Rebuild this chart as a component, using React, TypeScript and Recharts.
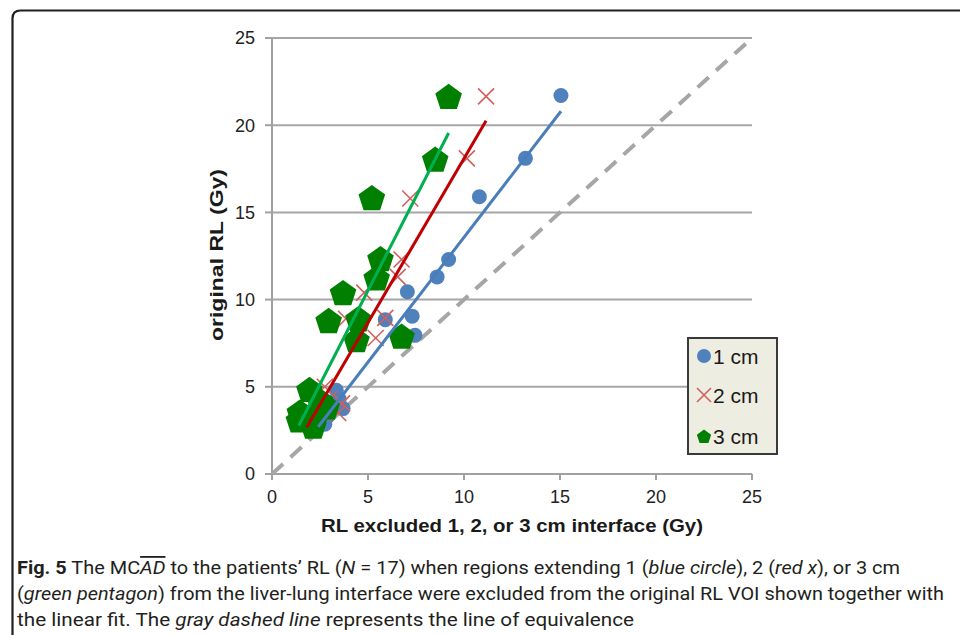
import React from 'react';
import { ScatterChart, Scatter, XAxis, YAxis, CartesianGrid } from 'recharts';

const xTicks = [0, 5, 10, 15, 20, 25];
const yTicks = [0, 5, 10, 15, 20, 25];

const blue1cm = [
  { x: 15.05, y: 21.7 }, { x: 13.2, y: 18.1 }, { x: 10.8, y: 15.9 }, { x: 9.2, y: 12.3 },
  { x: 8.6, y: 11.3 }, { x: 7.05, y: 10.45 }, { x: 7.3, y: 9.05 }, { x: 7.45, y: 7.95 },
  { x: 5.9, y: 8.85 }, { x: 3.35, y: 4.8 }, { x: 3.7, y: 3.75 }, { x: 2.75, y: 2.85 },
  { x: 2.45, y: 3.2 }, { x: 3.0, y: 3.6 }, { x: 3.1, y: 4.1 }, { x: 2.9, y: 3.3 }, { x: 3.5, y: 4.3 },
];
const red2cm = [
  { x: 11.15, y: 21.65 }, { x: 10.15, y: 18.1 }, { x: 7.2, y: 15.8 }, { x: 6.75, y: 12.3 },
  { x: 6.55, y: 11.3 }, { x: 4.8, y: 10.4 }, { x: 5.9, y: 8.95 }, { x: 3.85, y: 8.9 },
  { x: 5.4, y: 7.8 }, { x: 2.75, y: 5.0 }, { x: 3.45, y: 3.5 }, { x: 3.65, y: 4.05 },
  { x: 1.85, y: 3.0 }, { x: 2.3, y: 3.4 }, { x: 2.6, y: 3.9 }, { x: 2.2, y: 2.8 }, { x: 3.0, y: 4.3 },
];
const green3cm = [
  { x: 9.2, y: 21.65 }, { x: 8.5, y: 18.05 }, { x: 5.2, y: 15.85 }, { x: 5.65, y: 12.35 },
  { x: 5.45, y: 11.25 }, { x: 3.7, y: 10.4 }, { x: 2.95, y: 8.8 }, { x: 4.5, y: 8.9 },
  { x: 4.4, y: 7.7 }, { x: 6.75, y: 7.9 }, { x: 1.95, y: 4.85 }, { x: 1.45, y: 3.55 },
  { x: 2.25, y: 3.2 }, { x: 1.4, y: 3.1 }, { x: 2.15, y: 2.75 }, { x: 2.85, y: 3.85 }, { x: 2.5, y: 4.2 },
];

const blueFit = [{ x: 2.41, y: 2.71 }, { x: 15.05, y: 20.8 }];
const redFit = [{ x: 1.81, y: 2.68 }, { x: 11.15, y: 20.25 }];
const greenFit = [{ x: 1.4, y: 2.78 }, { x: 9.2, y: 19.55 }];
const equivalence = [{ x: 0, y: 0 }, { x: 25, y: 25 }];

const seriesNames = ['1 cm', '2 cm', '3 cm'];

const BLUE = '#4F81BD';
const RED_X = '#D0605E';
const GREEN = '#007F00';

const pentPoints = (cx: number, cy: number, r: number) =>
  Array.from({ length: 5 }, (_, k) => {
    const a = ((-90 + k * 72) * Math.PI) / 180;
    return `${cx + r * Math.cos(a)},${cy + r * Math.sin(a)}`;
  }).join(' ');

const CircleShape = (p: any) => <circle cx={p.cx} cy={p.cy} r={7.5} fill={BLUE} />;
const CrossShape = (p: any) => (
  <g stroke={RED_X} strokeWidth={1.6}>
    <line x1={p.cx - 8} y1={p.cy - 8} x2={p.cx + 8} y2={p.cy + 8} />
    <line x1={p.cx - 8} y1={p.cy + 8} x2={p.cx + 8} y2={p.cy - 8} />
  </g>
);
const PentShape = (p: any) => <polygon points={pentPoints(p.cx, p.cy + 1.3, 14)} fill={GREEN} />;
const NoShape = () => <g />;

export default function App() {
  const tickStyle = { fill: '#222', fontSize: 18, fontFamily: 'Liberation Sans, Arial, sans-serif' };
  return (
    <div style={{ position: 'absolute', left: 0, top: 0, width: 960, height: 635, background: '#fff', overflow: 'hidden' }}>
      <div style={{ position: 'absolute', left: 0, top: 0 }}>
        <ScatterChart width={960} height={635} margin={{ top: 38, right: 208, left: 212, bottom: 121 }}>
          <CartesianGrid vertical={false} stroke="#A6A6A6" strokeWidth={2} />
          <XAxis
            type="number"
            dataKey="x"
            domain={[0, 25]}
            ticks={xTicks}
            allowDataOverflow
            height={40}
            tickSize={6}
            tickMargin={10}
            tick={tickStyle}
            axisLine={{ stroke: '#A0A0A0', strokeWidth: 2 }}
            tickLine={{ stroke: '#A0A0A0', strokeWidth: 2 }}
          />
          <YAxis
            type="number"
            dataKey="y"
            domain={[0, 25]}
            ticks={yTicks}
            allowDataOverflow
            width={60}
            tickSize={7}
            tickMargin={10}
            tick={tickStyle}
            axisLine={{ stroke: '#A0A0A0', strokeWidth: 2 }}
            tickLine={{ stroke: '#A0A0A0', strokeWidth: 2 }}
          />
          <Scatter
            data={equivalence}
            line={{ stroke: '#A6A6A6', strokeWidth: 4, strokeDasharray: '15 10' }}
            shape={NoShape}
            legendType="none"
            isAnimationActive={false}
          />
          <Scatter name={seriesNames[0]} data={blue1cm} fill={BLUE} shape={CircleShape} isAnimationActive={false} />
          <Scatter name={seriesNames[1]} data={red2cm} fill={RED_X} shape={CrossShape} isAnimationActive={false} />
          <Scatter name={seriesNames[2]} data={green3cm} fill={GREEN} shape={PentShape} isAnimationActive={false} />
          <Scatter data={blueFit} line={{ stroke: '#4A7EBB', strokeWidth: 3 }} shape={NoShape} legendType="none" isAnimationActive={false} />
          <Scatter data={redFit} line={{ stroke: '#C00000', strokeWidth: 3 }} shape={NoShape} legendType="none" isAnimationActive={false} />
          <Scatter data={greenFit} line={{ stroke: '#00B050', strokeWidth: 3 }} shape={NoShape} legendType="none" isAnimationActive={false} />
        </ScatterChart>
      </div>
      <svg
        width={960}
        height={635}
        style={{ position: 'absolute', left: 0, top: 0, pointerEvents: 'none' }}
      >
        <path d="M 12.5 660 L 12.5 18.5 Q 12.5 10.5 20.5 10.5 L 980 10.5" fill="none" stroke="#1e1e1e" strokeWidth={2.2} />
        <g transform="translate(687 337)" fontFamily="Liberation Sans, Arial, sans-serif">
          <rect x={1} y={1} width={89} height={116} fill="#EEEDE1" stroke="#3a3a3a" strokeWidth={2} />
          <circle cx={17} cy={19} r={7} fill={BLUE} />
          <text x={26} y={26.5} fontSize={21} fill="#1a1a1a">{seriesNames[0]}</text>
          <g stroke={RED_X} strokeWidth={1.6}>
            <line x1={10} y1={51} x2={24} y2={65} />
            <line x1={10} y1={65} x2={24} y2={51} />
          </g>
          <text x={26} y={65.5} fontSize={21} fill="#1a1a1a">{seriesNames[1]}</text>
          <polygon points={pentPoints(17, 100, 7.5)} fill={GREEN} />
          <text x={26} y={106.5} fontSize={21} fill="#1a1a1a">{seriesNames[2]}</text>
        </g>
        <text
          x={512}
          y={532}
          textAnchor="middle"
          fontSize={18}
          fontWeight="bold"
          fontFamily="Liberation Sans, Arial, sans-serif"
          fill="#1a1a1a"
          textLength={382}
          lengthAdjust="spacingAndGlyphs"
        >
          RL excluded 1, 2, or 3 cm interface (Gy)
        </text>
        <text
          x={0}
          y={0}
          transform="translate(223 255) rotate(-90)"
          textAnchor="middle"
          fontSize={18}
          fontWeight="bold"
          fontFamily="Liberation Sans, Arial, sans-serif"
          fill="#1a1a1a"
          textLength={172}
          lengthAdjust="spacingAndGlyphs"
        >
          original RL (Gy)
        </text>
        <g fontFamily="Liberation Sans Narrow, Roboto, sans-serif" fontSize={18} fill="#231f20">
          <text x={17} y={574} textLength={883} lengthAdjust="spacingAndGlyphs">
            <tspan fontWeight="bold">Fig. 5</tspan>
            <tspan> The MC</tspan>
            <tspan fontStyle="italic" style={{ textDecoration: 'overline' }}>AD</tspan>
            <tspan> to the patients’ RL (</tspan>
            <tspan fontStyle="italic">N</tspan>
            <tspan> = 17) when regions extending 1 (</tspan>
            <tspan fontStyle="italic">blue circle</tspan>
            <tspan>), 2 (</tspan>
            <tspan fontStyle="italic">red x</tspan>
            <tspan>), or 3 cm</tspan>
          </text>
          <text x={17} y={600} textLength={927} lengthAdjust="spacingAndGlyphs">
            <tspan>(</tspan>
            <tspan fontStyle="italic">green pentagon</tspan>
            <tspan>) from the liver-lung interface were excluded from the original RL VOI shown together with</tspan>
          </text>
          <text x={17} y={626} textLength={617} lengthAdjust="spacingAndGlyphs">
            <tspan>the linear fit. The </tspan>
            <tspan fontStyle="italic">gray dashed line</tspan>
            <tspan> represents the line of equivalence</tspan>
          </text>
        </g>
      </svg>
    </div>
  );
}
